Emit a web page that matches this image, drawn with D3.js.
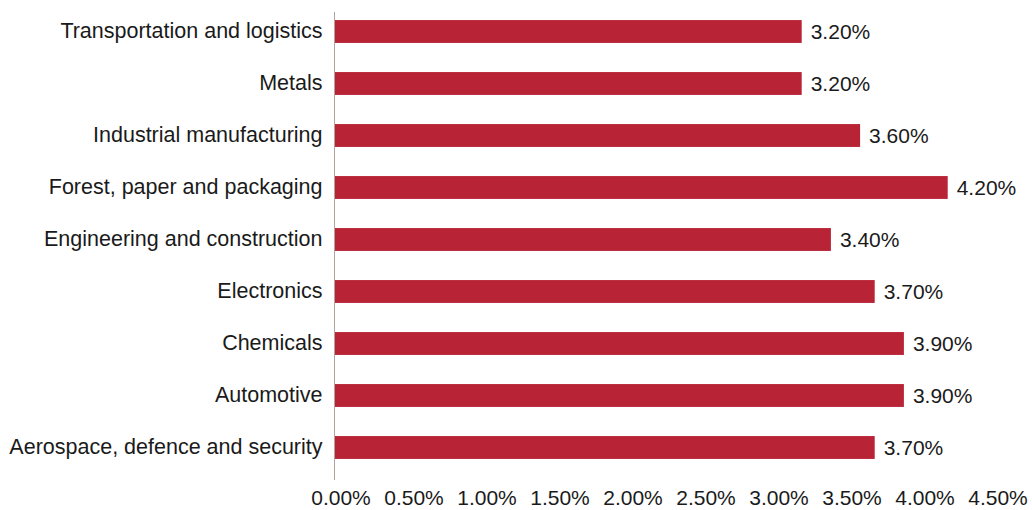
<!DOCTYPE html>
<html>
<head>
<meta charset="utf-8">
<script src="https://cdn.jsdelivr.net/npm/d3@7"></script>
<style>
  body { margin: 0; background: #fff; }
  svg { display: block; }
  text { font-family: "Liberation Sans", Arial, Helvetica, sans-serif; fill: #1a1a1a; }
</style>
</head>
<body>
<div id="chart"></div>
<script>
// categories top to bottom, as in the picture
var categories = [
  "Transportation and logistics",
  "Metals",
  "Industrial manufacturing",
  "Forest, paper and packaging",
  "Engineering and construction",
  "Electronics",
  "Chemicals",
  "Automotive",
  "Aerospace, defence and security"
];
var values = [3.2, 3.2, 3.6, 4.2, 3.4, 3.7, 3.9, 3.9, 3.7];
var ticks = [0, 0.5, 1, 1.5, 2, 2.5, 3, 3.5, 4, 4.5];

var width = 1032, height = 510;
var barColor = "#b82336";
var fontSize = 21;

var svg = d3.select("#chart").append("svg")
  .attr("width", width)
  .attr("height", height);

var x = d3.scaleLinear().domain([0, 4.5]).range([334.5, 991.5]);
var y = d3.scaleBand().domain(categories).range([5.5, 473.5]).paddingInner(0.56).paddingOuter(0.28);

// bars
svg.selectAll("rect.bar")
  .data(values)
  .enter().append("rect")
  .attr("class", "bar")
  .attr("x", x(0))
  .attr("y", function(d, i) { return y(categories[i]); })
  .attr("width", function(d) { return x(d) - x(0); })
  .attr("height", y.bandwidth())
  .attr("fill", barColor);

// value labels
svg.selectAll("text.val")
  .data(values)
  .enter().append("text")
  .attr("class", "val")
  .attr("x", function(d) { return x(d) + 9; })
  .attr("y", function(d, i) { return y(categories[i]) + y.bandwidth() / 2; })
  .attr("dy", "0.36em")
  .attr("font-size", fontSize)
  .text(function(d) { return d.toFixed(2) + "%"; });

// category axis
var yAxis = svg.append("g")
  .attr("transform", "translate(" + x(0) + ",0)")
  .call(d3.axisLeft(y).tickSize(0).tickPadding(12));
yAxis.select(".domain").remove();
yAxis.selectAll("text").attr("font-size", 21.5).attr("dy", "0.3em").attr("fill", "#1a1a1a");

svg.append("line")
  .attr("x1", x(0)).attr("x2", x(0))
  .attr("y1", 12).attr("y2", 480)
  .attr("stroke", "#b0a49a")
  .attr("stroke-width", 1);

// value axis (labels only)
var xAxis = svg.append("g")
  .attr("transform", "translate(0,480)")
  .call(d3.axisBottom(x).tickValues(ticks).tickSize(0).tickPadding(10)
    .tickFormat(function(d) { return d.toFixed(2) + "%"; }));
xAxis.select(".domain").remove();
xAxis.selectAll("text").attr("font-size", fontSize).attr("dx", 6).attr("fill", "#1a1a1a");
</script>
</body>
</html>
